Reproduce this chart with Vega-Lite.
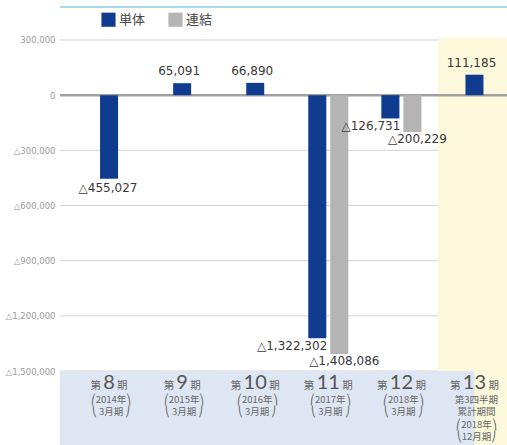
{
  "$schema": "https://vega.github.io/schema/vega-lite/v6.json",
  "width": 447,
  "height": 445,
  "autosize": {"type": "none"},
  "padding": {"left": 60, "top": 0, "right": 0, "bottom": 0},
  "background": "white",
  "config": {
    "view": {"stroke": null},
    "font": "Noto Sans CJK JP",
    "axis": {"grid": false}
  },
  "datasets": {
    "profit": [
      {"period": "8", "series": "単体", "value": -455027, "label": "△455,027"},
      {"period": "9", "series": "単体", "value": 65091, "label": "65,091"},
      {"period": "10", "series": "単体", "value": 66890, "label": "66,890"},
      {"period": "11", "series": "単体", "value": -1322302, "label": "△1,322,302"},
      {"period": "11", "series": "連結", "value": -1408086, "label": "△1,408,086"},
      {"period": "12", "series": "単体", "value": -126731, "label": "△126,731"},
      {"period": "12", "series": "連結", "value": -200229, "label": "△200,229"},
      {"period": "13", "series": "単体", "value": 111185, "label": "111,185"}
    ],
    "grid": [
      {"v": 300000}, {"v": -300000}, {"v": -600000}, {"v": -900000}, {"v": -1200000}, {"v": -1500000}
    ]
  },
  "data": {"name": "profit"},
  "resolve": {"axis": {"x": "independent"}},
  "layer": [
    {
      "data": {"name": "grid"},
      "mark": {"type": "rule", "color": "#d4d4d4", "strokeWidth": 1},
      "encoding": {
        "y": {
          "field": "v", "type": "quantitative", "title": null,
          "scale": {"domain": [-1902400, 517500], "nice": false, "zero": false},
          "axis": {
            "values": [300000, 0, -300000, -600000, -900000, -1200000, -1500000],
            "domain": false, "ticks": false, "grid": false, "title": null,
            "labelPadding": 5, "labelFontSize": 8.5, "labelColor": "#9a9a9a", "labelFont": "DejaVu Sans",
            "labelExpr": "datum.value < 0 ? '△' + format(-datum.value, ',') : format(datum.value, ',')"
          }
        }
      }
    },
    {
      "data": {"values": [{}]},
      "mark": {"type": "rect", "color": "#fbf8dc"},
      "encoding": {
        "x": {"datum": "13", "type": "nominal", "axis": null,
          "scale": {"type": "band", "domain": ["8", "9", "10", "11", "12", "13"], "range": [12.5, 451], "paddingInner": 0, "paddingOuter": 0}},
        "y": {"datum": 315000, "type": "quantitative", "title": null,
          "scale": {"domain": [-1902400, 517500], "nice": false, "zero": false}},
        "y2": {"datum": -1902400}
      }
    },
    {
      "data": {"values": [{}]},
      "mark": {"type": "rect", "color": "#dfe6f3"},
      "encoding": {
        "x": {"datum": "8", "type": "nominal", "axis": null, "bandPosition": -0.175,
          "scale": {"type": "band", "domain": ["8", "9", "10", "11", "12", "13"], "range": [12.5, 451], "paddingInner": 0, "paddingOuter": 0}},
        "x2": {"datum": "13"},
        "y": {"datum": -1500000, "type": "quantitative", "title": null,
          "scale": {"domain": [-1902400, 517500], "nice": false, "zero": false}},
        "y2": {"datum": -1902400}
      }
    },
    {
      "data": {"values": [{}]},
      "mark": {"type": "rule", "color": "#8ccdea", "strokeWidth": 1.5},
      "encoding": {
        "y": {"datum": 479400, "type": "quantitative", "title": null,
          "scale": {"domain": [-1902400, 517500], "nice": false, "zero": false}}
      }
    },
    {
      "data": {"values": [{}]},
      "mark": {"type": "rule", "color": "#a0a0a0", "strokeWidth": 2.5},
      "encoding": {
        "y": {"datum": 0, "type": "quantitative", "title": null,
          "scale": {"domain": [-1902400, 517500], "nice": false, "zero": false}}
      }
    },
    {
      "transform": [{"filter": {"field": "period", "oneOf": ["8", "9", "10", "13"]}}],
      "mark": {"type": "bar", "width": 18},
      "encoding": {
        "x": {"field": "period", "type": "nominal",
          "scale": {"type": "band", "domain": ["8", "9", "10", "11", "12", "13"], "range": [12.5, 451], "paddingInner": 0, "paddingOuter": 0},
          "axis": {
            "orient": "bottom", "offset": -74, "zindex": 2, "title": null,
            "domain": false, "ticks": false, "labelAngle": 0, "labelPadding": 17,
            "labelBaseline": "alphabetic", "labelAlign": "center",
            "labelFontSize": 20, "labelColor": "#555", "labelFont": "Lato",
            "labelOverlap": false, "labelBound": false, "labelFlush": false
          }
        },
        "y": {"field": "value", "type": "quantitative", "title": null,
          "scale": {"domain": [-1902400, 517500], "nice": false, "zero": false}},
        "color": {"field": "series", "type": "nominal",
          "scale": {"domain": ["単体", "連結"], "range": ["#0f3c8e", "#b4b4b4"]},
          "legend": {
            "orient": "none", "legendX": 41, "legendY": 12, "direction": "horizontal",
            "title": null, "symbolType": "square", "symbolSize": 200, "symbolStrokeWidth": 0,
            "symbolOpacity": 1, "labelFontSize": 13, "labelColor": "#444", "labelFont": "Noto Sans CJK JP",
            "columnPadding": 22, "labelOffset": 3
          }
        }
      }
    },
    {
      "transform": [{"filter": {"field": "period", "oneOf": ["11", "12"]}}],
      "mark": {"type": "bar"},
      "encoding": {
        "x": {"field": "period", "type": "nominal",
          "scale": {"type": "band", "domain": ["8", "9", "10", "11", "12", "13"], "range": [12.5, 451], "paddingInner": 0, "paddingOuter": 0},
          "axis": {
            "orient": "bottom", "offset": -74, "zindex": 2, "title": null,
            "domain": false, "ticks": false, "labelAngle": 0, "labelPadding": 17,
            "labelBaseline": "alphabetic", "labelAlign": "right",
            "labelOffset": {"condition": {"test": "length(datum.value) > 1", "value": -14}, "value": -8},
            "labelFontSize": 10.5, "labelColor": "#666", "labelFont": "Noto Sans CJK JP",
            "labelOverlap": false, "labelBound": false, "labelFlush": false,
            "labelExpr": "'第'"
          }
        },
        "xOffset": {"field": "series", "type": "nominal",
          "scale": {"domain": ["単体", "連結"], "paddingInner": 0.18, "paddingOuter": 0.75}},
        "y": {"field": "value", "type": "quantitative", "title": null,
          "scale": {"domain": [-1902400, 517500], "nice": false, "zero": false}},
        "color": {"field": "series", "type": "nominal",
          "scale": {"domain": ["単体", "連結"], "range": ["#0f3c8e", "#b4b4b4"]}}
      }
    },
    {
      "transform": [{"filter": "datum.value > 0"}],
      "mark": {"type": "text", "baseline": "bottom", "dy": -5, "dx": -3, "fontSize": 12, "font": "DejaVu Sans", "color": "#383838"},
      "encoding": {
        "x": {"field": "period", "type": "nominal",
          "scale": {"type": "band", "domain": ["8", "9", "10", "11", "12", "13"], "range": [12.5, 451], "paddingInner": 0, "paddingOuter": 0},
          "axis": {
            "orient": "bottom", "offset": -74, "zindex": 2, "title": null,
            "domain": false, "ticks": false, "labelAngle": 0, "labelPadding": 17,
            "labelBaseline": "alphabetic", "labelAlign": "left",
            "labelOffset": {"condition": {"test": "length(datum.value) > 1", "value": 14}, "value": 8},
            "labelFontSize": 10.5, "labelColor": "#666", "labelFont": "Noto Sans CJK JP",
            "labelOverlap": false, "labelBound": false, "labelFlush": false,
            "labelExpr": "'期'"
          }
        },
        "y": {"field": "value", "type": "quantitative", "title": null,
          "scale": {"domain": [-1902400, 517500], "nice": false, "zero": false}},
        "text": {"field": "label"}
      }
    },
    {
      "transform": [{"filter": {"field": "period", "equal": "8"}}],
      "mark": {"type": "text", "baseline": "top", "dy": 4, "dx": -1, "fontSize": 12, "font": "DejaVu Sans", "color": "#383838"},
      "encoding": {
        "x": {"field": "period", "type": "nominal",
          "scale": {"type": "band", "domain": ["8", "9", "10", "11", "12", "13"], "range": [12.5, 451], "paddingInner": 0, "paddingOuter": 0},
          "axis": {
            "orient": "bottom", "offset": -74, "zindex": 2, "title": null,
            "domain": false, "ticks": false, "labelAngle": 0, "labelPadding": 23,
            "labelBaseline": "top", "labelAlign": "center", "labelOffset": 2,
            "labelFontSize": 9.5, "labelLineHeight": 12.5, "labelColor": "#666", "labelFont": "Noto Sans CJK JP",
            "labelOverlap": false, "labelBound": false, "labelFlush": false,
            "labelExpr": "{'8':['⎛2014年⎞','⎝ 3月期 ⎠'],'9':['⎛2015年⎞','⎝ 3月期 ⎠'],'10':['⎛2016年⎞','⎝ 3月期 ⎠'],'11':['⎛2017年⎞','⎝ 3月期 ⎠'],'12':['⎛2018年⎞','⎝ 3月期 ⎠'],'13':['第3四半期','累計期間','⎛2018年⎞','⎝12月期⎠']}[datum.value]"
          }
        },
        "y": {"field": "value", "type": "quantitative", "title": null,
          "scale": {"domain": [-1902400, 517500], "nice": false, "zero": false}},
        "text": {"field": "label"}
      }
    },
    {
      "transform": [{"filter": {"and": [{"field": "period", "oneOf": ["11", "12"]}, {"field": "series", "equal": "単体"}]}}],
      "mark": {"type": "text", "baseline": "top", "align": "right", "dy": 3, "dx": 10, "fontSize": 12, "font": "DejaVu Sans", "color": "#383838"},
      "encoding": {
        "x": {"field": "period", "type": "nominal", "axis": null,
          "scale": {"type": "band", "domain": ["8", "9", "10", "11", "12", "13"], "range": [12.5, 451], "paddingInner": 0, "paddingOuter": 0}},
        "xOffset": {"field": "series", "type": "nominal",
          "scale": {"domain": ["単体", "連結"], "paddingInner": 0.18, "paddingOuter": 0.75}},
        "y": {"field": "value", "type": "quantitative", "title": null,
          "scale": {"domain": [-1902400, 517500], "nice": false, "zero": false}},
        "text": {"field": "label"}
      }
    },
    {
      "transform": [{"filter": {"field": "series", "equal": "連結"}}],
      "mark": {"type": "text", "baseline": "top", "align": "center", "dy": 2, "dx": 5, "fontSize": 12, "font": "DejaVu Sans", "color": "#383838"},
      "encoding": {
        "x": {"field": "period", "type": "nominal", "axis": null,
          "scale": {"type": "band", "domain": ["8", "9", "10", "11", "12", "13"], "range": [12.5, 451], "paddingInner": 0, "paddingOuter": 0}},
        "xOffset": {"field": "series", "type": "nominal",
          "scale": {"domain": ["単体", "連結"], "paddingInner": 0.18, "paddingOuter": 0.75}},
        "y": {"field": "value", "type": "quantitative", "title": null,
          "scale": {"domain": [-1902400, 517500], "nice": false, "zero": false}},
        "text": {"field": "label"}
      }
    }
  ]
}
